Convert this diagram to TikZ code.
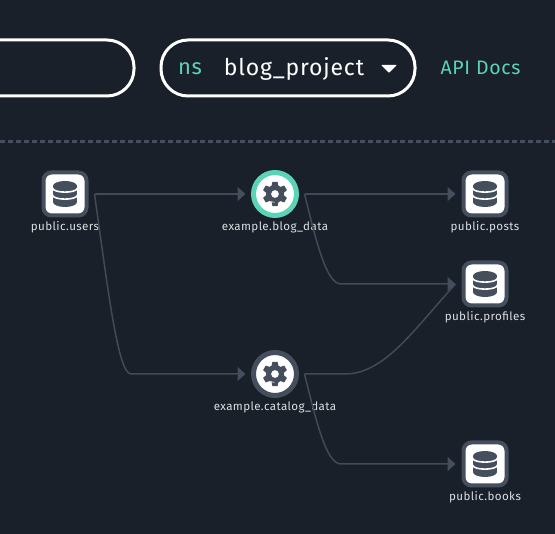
\documentclass[tikz,border=0pt]{standalone}
\usepackage{fontspec}
\setmainfont{Fira Sans}
\newfontfamily\wideface[LetterSpace=3.5]{Fira Sans}
\usepackage{xcolor}
\usetikzlibrary{arrows.meta}

\definecolor{pagebg}{HTML}{19202A}
\definecolor{slate}{HTML}{444E5D}
\definecolor{edgeline}{HTML}{414A58}
\definecolor{teal}{HTML}{5AD4B4}
\definecolor{labeltext}{HTML}{DDE0E4}

\tikzset{
    pill/.style={draw=white, line width=3pt, rounded corners=27pt},
    dataset/.style={draw=slate, fill=white, line width=4pt, rounded corners=8pt, minimum size=43pt, inner sep=0pt, outer sep=8pt},
    job/.style={circle, draw=slate, fill=white, line width=5pt, minimum size=43pt, inner sep=0pt, outer sep=8pt},
    caption/.style={font=\wideface\fontsize{11.6}{13}\selectfont, text=labeltext},
    edge/.style={draw=edgeline, line width=1.5pt},
    flow/.style={edge, -{Triangle[length=8pt,width=14pt,color=slate]}},
    gearicon/.pic={
        \fill[slate, even odd rule] (70:9) \foreach \t in {90,30,-30,-90,-150,-210} {
            -- (\t+22:9) -- (\t+12:12.5) -- (\t-12:12.5) -- (\t-22:9)
        } -- cycle (0,0) circle (4);
    },
    dbicon/.pic={
        \fill[slate] (-12,-8) rectangle (12,8);
        \fill[slate] (0,-8) ellipse (12 and 5);
        \fill[slate] (0,8) ellipse (12 and 5);
        \draw[white, line width=1.6pt] (-12.5,-6) .. controls (-12,-0.5) and (12,-0.5) .. (12.5,-6);
        \draw[white, line width=1.6pt] (-12.5,1) .. controls (-12,6.5) and (12,6.5) .. (12.5,1);
    },
}

\begin{document}
\begin{tikzpicture}[x=1pt, y=-1pt]
    \def\rowa{194}; % top row
    \def\rowb{284};
    \def\rowc{374};
    \def\rowd{464};

    \useasboundingbox (0,0) rectangle (555,534);
    \fill[pagebg] (0,0) rectangle (555,534);

    % header
    \draw[pill] (0,40) -- (134,40) -- (134,96) -- (0,96);
    \node[pill, minimum width=254pt, minimum height=56pt] (nspill) at (288,68) {};
    \node[text=teal, font=\wideface\fontsize{22}{26}\selectfont] (nslabel) at (190,69) {ns};
    \node[text=white, font=\wideface\fontsize{23}{27}\selectfont] (nsname) at (294,69) {blog\_project};
    \fill[white, rounded corners=0.8pt] (381,65) -- (397,65) -- (389,73) -- cycle;
    \node[text=teal, font=\wideface\fontsize{19.5}{23}\selectfont] (apidocs) at (480.5,67.5) {API Docs};
    \draw[slate, line width=2.2pt, dash pattern=on 5pt off 3pt] (0,141.5) -- (555,141.5);

    \node[dataset] (users) at (65,\rowa) {};
    \node[dataset] (posts) at (485,\rowa) {};
    \node[dataset] (profiles) at (485,\rowb) {};
    \node[dataset] (books) at (485,\rowd) {};
    \node[job, draw=teal] (blog) at (275,\rowa) {};
    \node[job] (catalog) at (275,\rowc) {};

    \pic at (users) {dbicon};
    \pic at (posts) {dbicon};
    \pic at (profiles) {dbicon};
    \pic at (books) {dbicon};
    \pic at (blog) {gearicon};
    \pic at (catalog) {gearicon};

    \node[caption] (userscap) at (65,227) {public.users};
    \node[caption] (postscap) at (485,227) {public.posts};
    \node[caption] (profilescap) at (485,317) {public.profiles};
    \node[caption] (bookscap) at (485,497) {public.books};
    \node[caption] (blogcap) at (275,227) {example.blog\_data};
    \node[caption] (catalogcap) at (275,407) {example.catalog\_data};

    \draw[edge] (catalog.east) -- (345,\rowc) .. controls (385,\rowc) and (415,328) .. (profiles.west);
    \draw[flow] (users.east) -- (blog.west);
    \draw[flow] (users.east) .. controls (108,290) and (118,\rowc) .. (131,\rowc) -- (catalog.west);
    \draw[flow] (blog.east) -- (posts.west);
    \draw[flow] (blog.east) .. controls (316,240) and (326,\rowb) .. (341,\rowb) -- (profiles.west);
    \draw[flow] (catalog.east) .. controls (316,420) and (326,\rowd) .. (341,\rowd) -- (books.west);
\end{tikzpicture}
\end{document}
